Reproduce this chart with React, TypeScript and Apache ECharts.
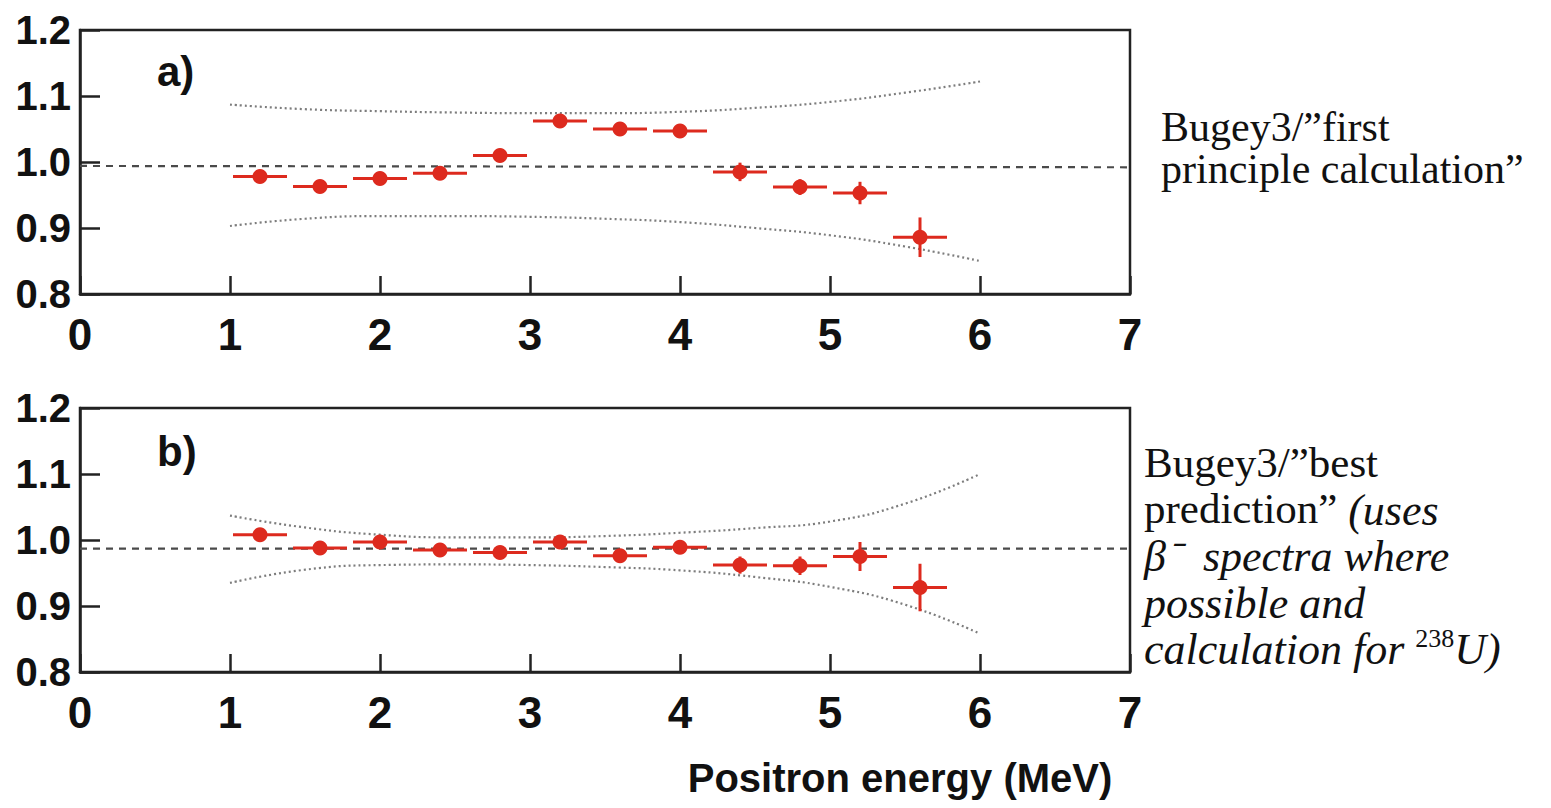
import React, { useEffect, useRef } from "react";
import * as echarts from "echarts";

// ---- data ----
const binCenters = [1.2, 1.6, 2.0, 2.4, 2.8, 3.2, 3.6, 4.0, 4.4, 4.8, 5.2, 5.6];
const binHalfWidth = [0.18, 0.18, 0.18, 0.18, 0.18, 0.18, 0.18, 0.18, 0.18, 0.18, 0.18, 0.18];
const ratioA = [0.978, 0.963, 0.975, 0.983, 1.01, 1.062, 1.05, 1.047, 0.985, 0.962, 0.953, 0.886];
const errA = [0.005, 0.005, 0.005, 0.005, 0.005, 0.005, 0.005, 0.005, 0.014, 0.012, 0.017, 0.03];
const ratioB = [1.008, 0.988, 0.997, 0.985, 0.981, 0.997, 0.976, 0.989, 0.962, 0.961, 0.975, 0.928];
const errB = [0.005, 0.005, 0.005, 0.005, 0.005, 0.005, 0.005, 0.005, 0.013, 0.014, 0.022, 0.036];

const envX = [1.0, 1.5, 2.0, 2.5, 3.0, 3.5, 4.0, 4.5, 5.0, 5.5, 6.0];
const envUpperA = [1.087, 1.08, 1.077, 1.075, 1.074, 1.074, 1.076, 1.082, 1.091, 1.105, 1.122];
const envLowerA = [0.903, 0.914, 0.918, 0.918, 0.917, 0.914, 0.909, 0.9, 0.889, 0.872, 0.85];
const envUpperB = [1.037, 1.019, 1.008, 1.004, 1.004, 1.006, 1.011, 1.018, 1.028, 1.055, 1.1];
const envLowerB = [0.935, 0.955, 0.962, 0.963, 0.962, 0.959, 0.954, 0.944, 0.929, 0.902, 0.858];

const refX = [0, 7];
const refA = [0.994, 0.992];
const refB = [0.987, 0.987];

const xTicks = ["0", "1", "2", "3", "4", "5", "6", "7"];
const yTicks = ["0.8", "0.9", "1.0", "1.1", "1.2"];

const panelLabels = ["a)", "b)"];
const xTitle = "Positron energy (MeV)";

// ---- styles ----
const RED = "#dd2a1e";
const AXIS = "#222";
const SANS = "'Liberation Sans', Arial, sans-serif";
const SERIF = "'Liberation Serif', 'Times New Roman', serif";

function errorSeries(vals: number[], errs: number[], idx: number) {
  return {
    type: "custom",
    xAxisIndex: idx,
    yAxisIndex: idx,
    z: 10,
    encode: { x: 0, y: 1 },
    data: binCenters.map((x, i) => [x, vals[i], errs[i], binHalfWidth[i]]),
    renderItem: (params: any, api: any) => {
      const x = api.value(0);
      const y = api.value(1);
      const e = api.value(2);
      const hw = api.value(3);
      const pL = api.coord([x - hw, y]);
      const pR = api.coord([x + hw, y]);
      const pT = api.coord([x, y + e]);
      const pB = api.coord([x, y - e]);
      const c = api.coord([x, y]);
      return {
        type: "group",
        children: [
          { type: "line", shape: { x1: pL[0], y1: pL[1], x2: pR[0], y2: pR[1] }, style: { stroke: RED, lineWidth: 3 } },
          { type: "line", shape: { x1: pT[0], y1: pT[1], x2: pB[0], y2: pB[1] }, style: { stroke: RED, lineWidth: 3 } },
          { type: "circle", shape: { cx: c[0], cy: c[1], r: 7.5 }, style: { fill: RED } },
        ],
      };
    },
  };
}

function envSeries(vals: number[], idx: number) {
  return {
    type: "line",
    xAxisIndex: idx,
    yAxisIndex: idx,
    smooth: true,
    symbol: "none",
    data: envX.map((x, i) => [x, vals[i]]),
    lineStyle: { color: "#7d7d7d", width: 2.2, type: [2, 3] },
  };
}

function refSeries(vals: number[], idx: number) {
  return {
    type: "line",
    xAxisIndex: idx,
    yAxisIndex: idx,
    symbol: "none",
    data: refX.map((x, i) => [x, vals[i]]),
    lineStyle: { color: "#4a4a4a", width: 2.2, type: [7, 6] },
  };
}

function xAxis(idx: number) {
  return {
    type: "value",
    gridIndex: idx,
    min: 0,
    max: 7,
    interval: 1,
    axisLine: { show: true, onZero: false, lineStyle: { color: AXIS, width: 2.5 } },
    axisTick: { show: true, inside: true, length: 18, lineStyle: { color: AXIS, width: 2.5 } },
    splitLine: { show: false },
    axisLabel: {
      margin: 18,
      fontFamily: SANS,
      fontWeight: "bold",
      fontSize: 44,
      color: "#111",
      formatter: (v: number) => xTicks[Math.round(v)] ?? "",
    },
  };
}

function yAxis(idx: number) {
  return {
    type: "value",
    gridIndex: idx,
    min: 0.8,
    max: 1.2,
    interval: 0.1,
    axisLine: { show: true, lineStyle: { color: AXIS, width: 2.5 } },
    axisTick: { show: true, inside: true, length: 20, lineStyle: { color: AXIS, width: 2.5 } },
    splitLine: { show: false },
    axisLabel: {
      margin: 9,
      fontFamily: SANS,
      fontWeight: "bold",
      fontSize: 40,
      color: "#111",
      formatter: (v: number) => yTicks[Math.round((v - 0.8) * 10)] ?? "",
    },
  };
}

export default function App() {
  const ref = useRef<HTMLDivElement>(null);
  useEffect(() => {
    if (!ref.current) return;
    const chart = echarts.init(ref.current, null, { renderer: "svg" });
    chart.setOption({
      animation: false,
      backgroundColor: "#fff",
      grid: [
        { left: 80, top: 30, width: 1050, height: 264, show: true, borderColor: AXIS, borderWidth: 2.5, backgroundColor: "transparent" },
        { left: 80, top: 408, width: 1050, height: 264, show: true, borderColor: AXIS, borderWidth: 2.5, backgroundColor: "transparent" },
      ],
      xAxis: [xAxis(0), xAxis(1)],
      yAxis: [yAxis(0), yAxis(1)],
      series: [
        refSeries(refA, 0),
        envSeries(envUpperA, 0),
        envSeries(envLowerA, 0),
        errorSeries(ratioA, errA, 0),
        refSeries(refB, 1),
        envSeries(envUpperB, 1),
        envSeries(envLowerB, 1),
        errorSeries(ratioB, errB, 1),
      ],
      graphic: [
        { type: "text", left: 157, top: 50, style: { text: panelLabels[0], fontFamily: SANS, fontWeight: "bold", fontSize: 42, fill: "#111" } },
        { type: "text", left: 157, top: 430, style: { text: panelLabels[1], fontFamily: SANS, fontWeight: "bold", fontSize: 42, fill: "#111" } },
        { type: "text", x: 900, y: 778, style: { text: xTitle, fontFamily: SANS, fontWeight: "bold", fontSize: 40, fill: "#111", align: "center", verticalAlign: "middle" } },
        {
          type: "text", x: 1161, y: 106,
          style: {
            text: "Bugey3/\u201dfirst\nprinciple calculation\u201d",
            fontFamily: SERIF, fontSize: 42, lineHeight: 42, fill: "#111", verticalAlign: "top",
          },
        },
        {
          type: "text", x: 1144, y: 439,
          style: {
            fontFamily: SERIF, fontSize: 43, lineHeight: 46.5, fill: "#111", verticalAlign: "top",
            text: [
              "{n|Bugey3/\u201dbest}",
              "{n|prediction\u201d }{i|(uses}",
              "{i|\u03b2\u207b  spectra where}",
              "{i|possible and}",
              "{i|calculation for }{s|238}{i|U)}",
            ].join("\n"),
            rich: {
              n: { fontFamily: SERIF, fontSize: 43, lineHeight: 46.5, fill: "#111" },
              i: { fontFamily: SERIF, fontSize: 44, lineHeight: 46.5, fontStyle: "italic", fill: "#111", verticalAlign: "bottom" },
              s: { fontFamily: SERIF, fontSize: 26, lineHeight: 46.5, fill: "#111", verticalAlign: "top" },
            },
          },
        },
      ],
    });
    return () => chart.dispose();
  }, []);
  return <div ref={ref} style={{ position: "fixed", left: 0, top: 0, width: 1551, height: 808 }} />;
}
